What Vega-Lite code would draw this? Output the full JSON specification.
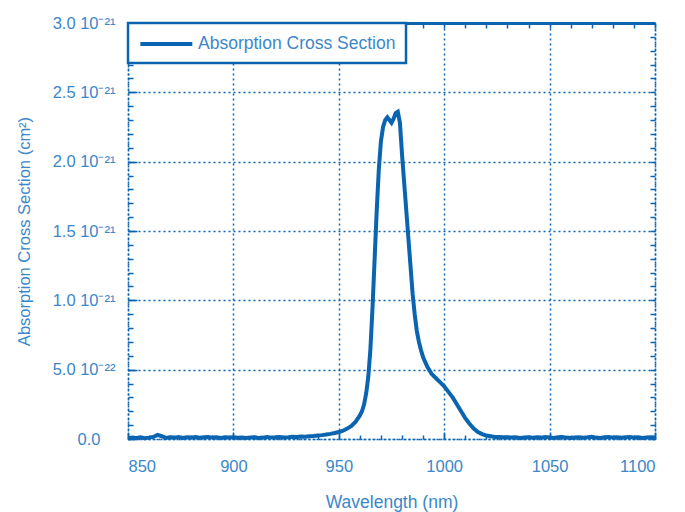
{
  "$schema": "https://vega.github.io/schema/vega-lite/v6.json",
  "width": 527,
  "height": 416,
  "autosize": {"type": "none"},
  "padding": {"left": 128, "top": 23, "right": 30, "bottom": 73},
  "background": "white",
  "config": {
    "view": {"stroke": null},
    "font": "Liberation Sans",
    "axis": {
      "labelFont": "Liberation Sans",
      "titleFont": "Liberation Sans",
      "labelFontSize": 16.5,
      "titleFontSize": 16.5,
      "titleFontWeight": "normal",
      "labelColor": "#3b87c8",
      "titleColor": "#3b87c8",
      "tickColor": "#0a64b0",
      "domainColor": "#0a64b0",
      "gridColor": "#0a64b0",
      "gridDash": [2, 3],
      "gridWidth": 1.5,
      "gridOpacity": 1,
      "tickWidth": 1.5,
      "domainWidth": 1.5,
      "domainDash": [2, 2]
    },
    "legend": {
      "labelFont": "Liberation Sans",
      "labelFontSize": 17.5,
      "labelColor": "#3b87c8"
    }
  },
  "data": {
    "values": [
      {"wavelength": 850, "sigma": 5e-24},
      {"wavelength": 852, "sigma": 1e-23},
      {"wavelength": 854, "sigma": 8e-24},
      {"wavelength": 856, "sigma": 1.2e-23},
      {"wavelength": 858, "sigma": 6e-24},
      {"wavelength": 860, "sigma": 1e-23},
      {"wavelength": 862, "sigma": 1.5e-23},
      {"wavelength": 864, "sigma": 3e-23},
      {"wavelength": 866, "sigma": 2e-23},
      {"wavelength": 868, "sigma": 8e-24},
      {"wavelength": 870, "sigma": 1.2e-23},
      {"wavelength": 872, "sigma": 1e-23},
      {"wavelength": 874, "sigma": 1.5e-23},
      {"wavelength": 876, "sigma": 8e-24},
      {"wavelength": 878, "sigma": 1.2e-23},
      {"wavelength": 880, "sigma": 1e-23},
      {"wavelength": 882, "sigma": 1.4e-23},
      {"wavelength": 884, "sigma": 9e-24},
      {"wavelength": 886, "sigma": 1.2e-23},
      {"wavelength": 888, "sigma": 1.5e-23},
      {"wavelength": 890, "sigma": 1e-23},
      {"wavelength": 892, "sigma": 1.2e-23},
      {"wavelength": 894, "sigma": 8e-24},
      {"wavelength": 896, "sigma": 1.3e-23},
      {"wavelength": 898, "sigma": 1e-23},
      {"wavelength": 900, "sigma": 1.2e-23},
      {"wavelength": 902, "sigma": 9e-24},
      {"wavelength": 904, "sigma": 1.1e-23},
      {"wavelength": 906, "sigma": 7e-24},
      {"wavelength": 908, "sigma": 1e-23},
      {"wavelength": 910, "sigma": 1.2e-23},
      {"wavelength": 912, "sigma": 8e-24},
      {"wavelength": 914, "sigma": 1e-23},
      {"wavelength": 916, "sigma": 1.4e-23},
      {"wavelength": 918, "sigma": 1e-23},
      {"wavelength": 920, "sigma": 1.2e-23},
      {"wavelength": 922, "sigma": 1.5e-23},
      {"wavelength": 924, "sigma": 1.1e-23},
      {"wavelength": 926, "sigma": 1.3e-23},
      {"wavelength": 928, "sigma": 1.6e-23},
      {"wavelength": 930, "sigma": 1.4e-23},
      {"wavelength": 932, "sigma": 1.8e-23},
      {"wavelength": 934, "sigma": 1.6e-23},
      {"wavelength": 936, "sigma": 2e-23},
      {"wavelength": 938, "sigma": 2.2e-23},
      {"wavelength": 940, "sigma": 2.5e-23},
      {"wavelength": 942, "sigma": 2.8e-23},
      {"wavelength": 944, "sigma": 3.2e-23},
      {"wavelength": 946, "sigma": 3.7e-23},
      {"wavelength": 948, "sigma": 4.3e-23},
      {"wavelength": 950, "sigma": 5e-23},
      {"wavelength": 952, "sigma": 6e-23},
      {"wavelength": 954, "sigma": 7.5e-23},
      {"wavelength": 956, "sigma": 9.5e-23},
      {"wavelength": 958, "sigma": 1.25e-22},
      {"wavelength": 960, "sigma": 1.7e-22},
      {"wavelength": 961, "sigma": 2e-22},
      {"wavelength": 962, "sigma": 2.5e-22},
      {"wavelength": 963, "sigma": 3.3e-22},
      {"wavelength": 964, "sigma": 4.5e-22},
      {"wavelength": 965, "sigma": 6.5e-22},
      {"wavelength": 966, "sigma": 9.5e-22},
      {"wavelength": 967, "sigma": 1.3e-21},
      {"wavelength": 968, "sigma": 1.65e-21},
      {"wavelength": 969, "sigma": 1.95e-21},
      {"wavelength": 970, "sigma": 2.15e-21},
      {"wavelength": 971, "sigma": 2.25e-21},
      {"wavelength": 972, "sigma": 2.3e-21},
      {"wavelength": 973, "sigma": 2.32e-21},
      {"wavelength": 974, "sigma": 2.3e-21},
      {"wavelength": 975, "sigma": 2.28e-21},
      {"wavelength": 976, "sigma": 2.31e-21},
      {"wavelength": 977, "sigma": 2.35e-21},
      {"wavelength": 978, "sigma": 2.36e-21},
      {"wavelength": 979, "sigma": 2.28e-21},
      {"wavelength": 980, "sigma": 2.05e-21},
      {"wavelength": 981, "sigma": 1.85e-21},
      {"wavelength": 982, "sigma": 1.65e-21},
      {"wavelength": 983, "sigma": 1.45e-21},
      {"wavelength": 984, "sigma": 1.25e-21},
      {"wavelength": 985, "sigma": 1.05e-21},
      {"wavelength": 986, "sigma": 9e-22},
      {"wavelength": 987, "sigma": 7.8e-22},
      {"wavelength": 988, "sigma": 7e-22},
      {"wavelength": 989, "sigma": 6.4e-22},
      {"wavelength": 990, "sigma": 5.9e-22},
      {"wavelength": 992, "sigma": 5.2e-22},
      {"wavelength": 994, "sigma": 4.7e-22},
      {"wavelength": 996, "sigma": 4.4e-22},
      {"wavelength": 998, "sigma": 4.1e-22},
      {"wavelength": 1000, "sigma": 3.8e-22},
      {"wavelength": 1002, "sigma": 3.4e-22},
      {"wavelength": 1004, "sigma": 3e-22},
      {"wavelength": 1006, "sigma": 2.5e-22},
      {"wavelength": 1008, "sigma": 2e-22},
      {"wavelength": 1010, "sigma": 1.5e-22},
      {"wavelength": 1012, "sigma": 1.1e-22},
      {"wavelength": 1014, "sigma": 7.5e-23},
      {"wavelength": 1016, "sigma": 5e-23},
      {"wavelength": 1018, "sigma": 3.5e-23},
      {"wavelength": 1020, "sigma": 2.5e-23},
      {"wavelength": 1022, "sigma": 2e-23},
      {"wavelength": 1024, "sigma": 1.5e-23},
      {"wavelength": 1026, "sigma": 1.4e-23},
      {"wavelength": 1028, "sigma": 1.2e-23},
      {"wavelength": 1030, "sigma": 1.3e-23},
      {"wavelength": 1032, "sigma": 1e-23},
      {"wavelength": 1034, "sigma": 1.2e-23},
      {"wavelength": 1036, "sigma": 8e-24},
      {"wavelength": 1038, "sigma": 1.1e-23},
      {"wavelength": 1040, "sigma": 1.3e-23},
      {"wavelength": 1042, "sigma": 9e-24},
      {"wavelength": 1044, "sigma": 1.2e-23},
      {"wavelength": 1046, "sigma": 1e-23},
      {"wavelength": 1048, "sigma": 1.4e-23},
      {"wavelength": 1050, "sigma": 1.1e-23},
      {"wavelength": 1052, "sigma": 8e-24},
      {"wavelength": 1054, "sigma": 1.2e-23},
      {"wavelength": 1056, "sigma": 1.5e-23},
      {"wavelength": 1058, "sigma": 1e-23},
      {"wavelength": 1060, "sigma": 7e-24},
      {"wavelength": 1062, "sigma": 1.1e-23},
      {"wavelength": 1064, "sigma": 1.3e-23},
      {"wavelength": 1066, "sigma": 9e-24},
      {"wavelength": 1068, "sigma": 1.2e-23},
      {"wavelength": 1070, "sigma": 1.6e-23},
      {"wavelength": 1072, "sigma": 1e-23},
      {"wavelength": 1074, "sigma": 8e-24},
      {"wavelength": 1076, "sigma": 1.2e-23},
      {"wavelength": 1078, "sigma": 1.4e-23},
      {"wavelength": 1080, "sigma": 1e-23},
      {"wavelength": 1082, "sigma": 1.2e-23},
      {"wavelength": 1084, "sigma": 9e-24},
      {"wavelength": 1086, "sigma": 1.3e-23},
      {"wavelength": 1088, "sigma": 1.5e-23},
      {"wavelength": 1090, "sigma": 1e-23},
      {"wavelength": 1092, "sigma": 1.2e-23},
      {"wavelength": 1094, "sigma": 8e-24},
      {"wavelength": 1096, "sigma": 1.1e-23},
      {"wavelength": 1098, "sigma": 1.3e-23},
      {"wavelength": 1100, "sigma": 1e-23}
    ]
  },
  "resolve": {"axis": {"x": "independent", "y": "independent"}},
  "layer": [
    {
      "mark": {"type": "line", "strokeWidth": 0, "strokeOpacity": 0},
      "encoding": {
        "x": {"field": "wavelength", "type": "quantitative",
          "scale": {"domain": [850, 1100], "nice": false, "zero": false},
          "axis": {"orient": "bottom", "values": [850,860,870,880,890,900,910,920,930,940,950,960,970,980,990,1000,1010,1020,1030,1040,1050,1060,1070,1080,1090,1100],
            "tickSize": -4, "labels": false, "grid": false, "domain": false, "title": null}},
        "y": {"field": "sigma", "type": "quantitative",
          "scale": {"domain": [0, 3e-21], "nice": false},
          "axis": {"orient": "left", "values": [0,1e-22,2e-22,3e-22,4e-22,5e-22,6e-22,7e-22,8e-22,9e-22,1e-21,1.1e-21,1.2e-21,1.3e-21,1.4e-21,1.5e-21,1.6e-21,1.7e-21,1.8e-21,1.9e-21,2e-21,2.1e-21,2.2e-21,2.3e-21,2.4e-21,2.5e-21,2.6e-21,2.7e-21,2.8e-21,2.9e-21,3e-21],
            "tickSize": -5, "labels": false, "grid": false, "domain": false, "title": null}}
      }
    },
    {
      "mark": {"type": "line", "strokeWidth": 0, "strokeOpacity": 0},
      "encoding": {
        "x": {"field": "wavelength", "type": "quantitative",
          "scale": {"domain": [850, 1100], "nice": false, "zero": false},
          "axis": {"orient": "top", "values": [850,860,870,880,890,900,910,920,930,940,950,960,970,980,990,1000,1010,1020,1030,1040,1050,1060,1070,1080,1090,1100],
            "tickSize": -5, "labels": false, "grid": false, "domain": true, "domainDash": [], "domainWidth": 3, "title": null}},
        "y": {"field": "sigma", "type": "quantitative",
          "scale": {"domain": [0, 3e-21], "nice": false},
          "axis": {"orient": "right", "values": [0,1e-22,2e-22,3e-22,4e-22,5e-22,6e-22,7e-22,8e-22,9e-22,1e-21,1.1e-21,1.2e-21,1.3e-21,1.4e-21,1.5e-21,1.6e-21,1.7e-21,1.8e-21,1.9e-21,2e-21,2.1e-21,2.2e-21,2.3e-21,2.4e-21,2.5e-21,2.6e-21,2.7e-21,2.8e-21,2.9e-21,3e-21],
            "tickSize": -5, "labels": false, "grid": false, "domain": true, "title": null}}
      }
    },
    {
      "mark": {"type": "line", "strokeWidth": 4, "interpolate": "linear"},
      "encoding": {
        "x": {"field": "wavelength", "type": "quantitative",
          "scale": {"domain": [850, 1100], "nice": false, "zero": false},
          "axis": {"orient": "bottom", "values": [850, 900, 950, 1000, 1050, 1100], "format": "d",
            "tickSize": -7, "labelPadding": 26, "grid": true, "domain": true,
            "title": "Wavelength (nm)", "titleFontSize": 17.5, "titlePadding": 19}},
        "y": {"field": "sigma", "type": "quantitative",
          "scale": {"domain": [0, 3e-21], "nice": false},
          "axis": {"orient": "left", "values": [0, 5e-22, 1e-21, 1.5e-21, 2e-21, 2.5e-21, 3e-21],
            "tickSize": -9,
            "labelPadding": {"condition": {"test": "datum.value < 1e-25", "value": 37}, "value": 22},
            "grid": true, "domain": true,
            "labelExpr": "datum.value < 1e-25 ? '0.0' : (datum.value < 9e-22 ? format(datum.value * 1e22, '.1f') + ' 10⁻²²' : format(datum.value * 1e21, '.1f') + ' 10⁻²¹')",
            "title": "Absorption Cross Section (cm²)", "titlePadding": 20}},
        "color": {"datum": "Absorption Cross Section", "type": "nominal",
          "scale": {"range": ["#0a64b0"]},
          "legend": {"orient": "top-left", "offset": 0, "title": null, "symbolType": "M-1,0H5",
            "symbolSize": 300, "symbolStrokeWidth": 4, "padding": 10, "labelOffset": 38, "labelLimit": 400,
            "strokeColor": "#0a64b0", "fillColor": "white", "cornerRadius": 0,
            "encode": {"legend": {"update": {"strokeWidth": {"value": 2.5}}}}}}
      }
    }
  ]
}
